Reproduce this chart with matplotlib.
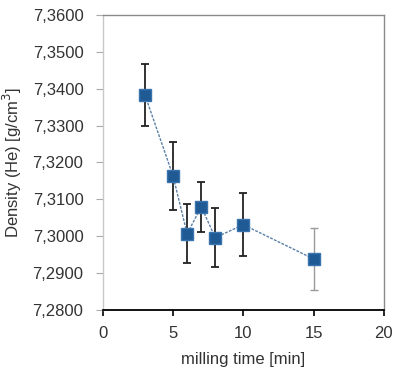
import matplotlib.pyplot as plt
from matplotlib.ticker import FuncFormatter
import numpy as np

plt.rcParams['font.family'] = ['Liberation Sans', 'DejaVu Sans']

# milling time [min] vs. He pycnometer density
milling_time = [3, 5, 6, 7, 8, 10, 15]
density = [7.3383, 7.3163, 7.3006, 7.3080, 7.2996, 7.3031, 7.2938]
density_err = [0.0085, 0.0093, 0.0080, 0.0068, 0.0080, 0.0085, 0.0085]

fig = plt.figure(figsize=(3.97, 3.76), dpi=100)
ax = fig.add_axes([0.259, 0.176, 0.708, 0.784])

# the last point was measured separately, its error bar is lighter
ax.errorbar(milling_time[:-1], density[:-1], yerr=density_err[:-1], fmt='none',
            ecolor='#222222', elinewidth=1.3, capsize=3, capthick=1.3, zorder=2)
ax.errorbar(milling_time[-1:], density[-1:], yerr=density_err[-1:], fmt='none',
            ecolor='#9a9a9a', elinewidth=1.0, capsize=3, capthick=1.0, zorder=2)
ax.plot(milling_time, density, color='#5a7fa6', lw=1.0, ls=(0, (2, 1)), zorder=3)
ax.plot(milling_time, density, ls='none', marker='s', ms=8.5,
        mfc='#1f5a94', mec='#3a74ae', zorder=4)

ax.set_xlim(0, 20)
ax.set_ylim(7.28, 7.36)
ax.set_xticks(np.arange(0, 21, 5))
ax.set_yticks(np.arange(7.28, 7.3601, 0.01))
ax.yaxis.set_major_formatter(FuncFormatter(lambda v, p: f'{v:.4f}'.replace('.', ',')))

ax.set_xlabel('milling time [min]', fontsize=12, color='#333333')
ax.set_ylabel('Density (He) [g/cm$^3$]', fontsize=12, color='#333333')
ax.xaxis.set_label_coords(0.5, -0.142)
ax.yaxis.set_label_coords(-0.28, 0.5)
ax.tick_params(axis='both', labelsize=12, colors='#333333')
ax.tick_params(axis='y', direction='out', length=5, color='#aaaaaa', pad=9)
ax.tick_params(axis='x', direction='out', length=4, color='black', width=1.2, pad=8)

for side in ['left', 'top', 'right']:
    ax.spines[side].set_color('#8a8a8a')
    ax.spines[side].set_linewidth(1.0)
ax.spines['left'].set_color('#c8c8c8')
ax.spines['bottom'].set_color('black')
ax.spines['bottom'].set_linewidth(1.3)

fig.savefig('out.png', dpi=100)
